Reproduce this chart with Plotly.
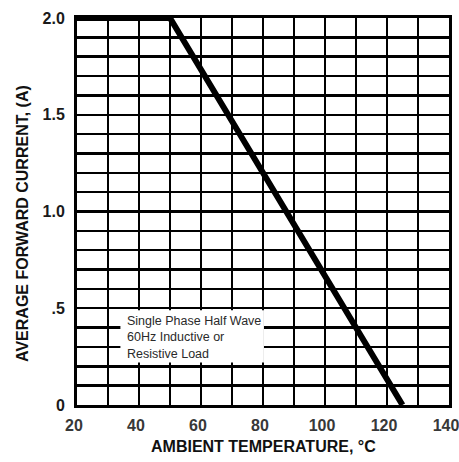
import plotly.graph_objects as go

# Data
temperature_c = [20, 50, 125]
forward_current_a = [2.0, 2.0, 0.0]

x_tick_vals = [20, 40, 60, 80, 100, 120, 140]
x_tick_text = ["20", "40", "60", "80", "100", "120", "140"]
y_tick_vals = [0, 0.5, 1.0, 1.5, 2.0]
y_tick_text = ["0", ".5", "1.0", "1.5", "2.0"]

note_lines = ["Single Phase Half Wave", "60Hz Inductive or", "Resistive Load"]

FONT = "Liberation Sans, Arial, sans-serif"
INK = "#111111"

fig = go.Figure()
fig.add_trace(go.Scatter(
    x=temperature_c, y=forward_current_a, mode="lines",
    line=dict(color="#000000", width=6),
    hoverinfo="skip", showlegend=False, cliponaxis=False,
))

# white label box hiding gridlines
fig.add_shape(type="rect", xref="x", yref="y",
              x0=34.0, x1=80.3, y0=0.22, y1=0.49,
              fillcolor="white", line=dict(width=0), layer="above")

fig.add_annotation(
    x=35.5, y=0.48, xref="x", yref="y", xanchor="left", yanchor="top",
    text="<br>".join(note_lines), showarrow=False, align="left",
    font=dict(family=FONT, size=12.5, color="#2a2a2a"),
)

axis_common = dict(
    showline=True, mirror=True, linecolor="#000000", linewidth=3,
    gridcolor="#000000", gridwidth=2.5, showgrid=True,
    zeroline=False, ticks="", automargin=False, ticklabeloverflow="allow",
)

fig.update_xaxes(
    range=[19.999, 140.001], tickmode="array", tickvals=x_tick_vals, ticktext=x_tick_text,
    minor=dict(dtick=10, tick0=20, showgrid=True, gridcolor="#000000", gridwidth=2.5),
    ticklabelstandoff=4, ticklabelshift=-3,
    tickfont=dict(family=FONT, size=16, color="#383838", weight="bold"),
    **axis_common,
)
fig.update_yaxes(
    range=[-0.0001, 2.0001], tickmode="array", tickvals=y_tick_vals, ticktext=y_tick_text,
    minor=dict(dtick=0.1, tick0=0, showgrid=True, gridcolor="#000000", gridwidth=2.5),
    ticklabelstandoff=6,
    tickfont=dict(family=FONT, size=16, color="#1a1a1a", weight="bold"),
    **axis_common,
)

fig.add_annotation(
    text="AMBIENT TEMPERATURE, °C", xref="paper", yref="paper",
    x=0.5, y=-0.106, xanchor="center", yanchor="middle", showarrow=False,
    font=dict(family=FONT, size=16, color=INK, weight="bold"),
)
fig.add_annotation(
    text="AVERAGE FORWARD CURRENT, (A)", xref="paper", yref="paper",
    x=-0.145, y=0.468, xanchor="center", yanchor="middle", showarrow=False,
    textangle=-90,
    font=dict(family=FONT, size=16, color=INK, weight="bold"),
)

fig.update_layout(
    width=459, height=462,
    margin=dict(l=77, r=10, t=18, b=57, autoexpand=False),
    paper_bgcolor="white", plot_bgcolor="white",
    showlegend=False,
)

fig.write_html(
    "out.html",
    config={"displayModeBar": False, "staticPlot": True},
    post_script="document.body.style.margin='0';document.body.style.overflow='hidden';",
)
